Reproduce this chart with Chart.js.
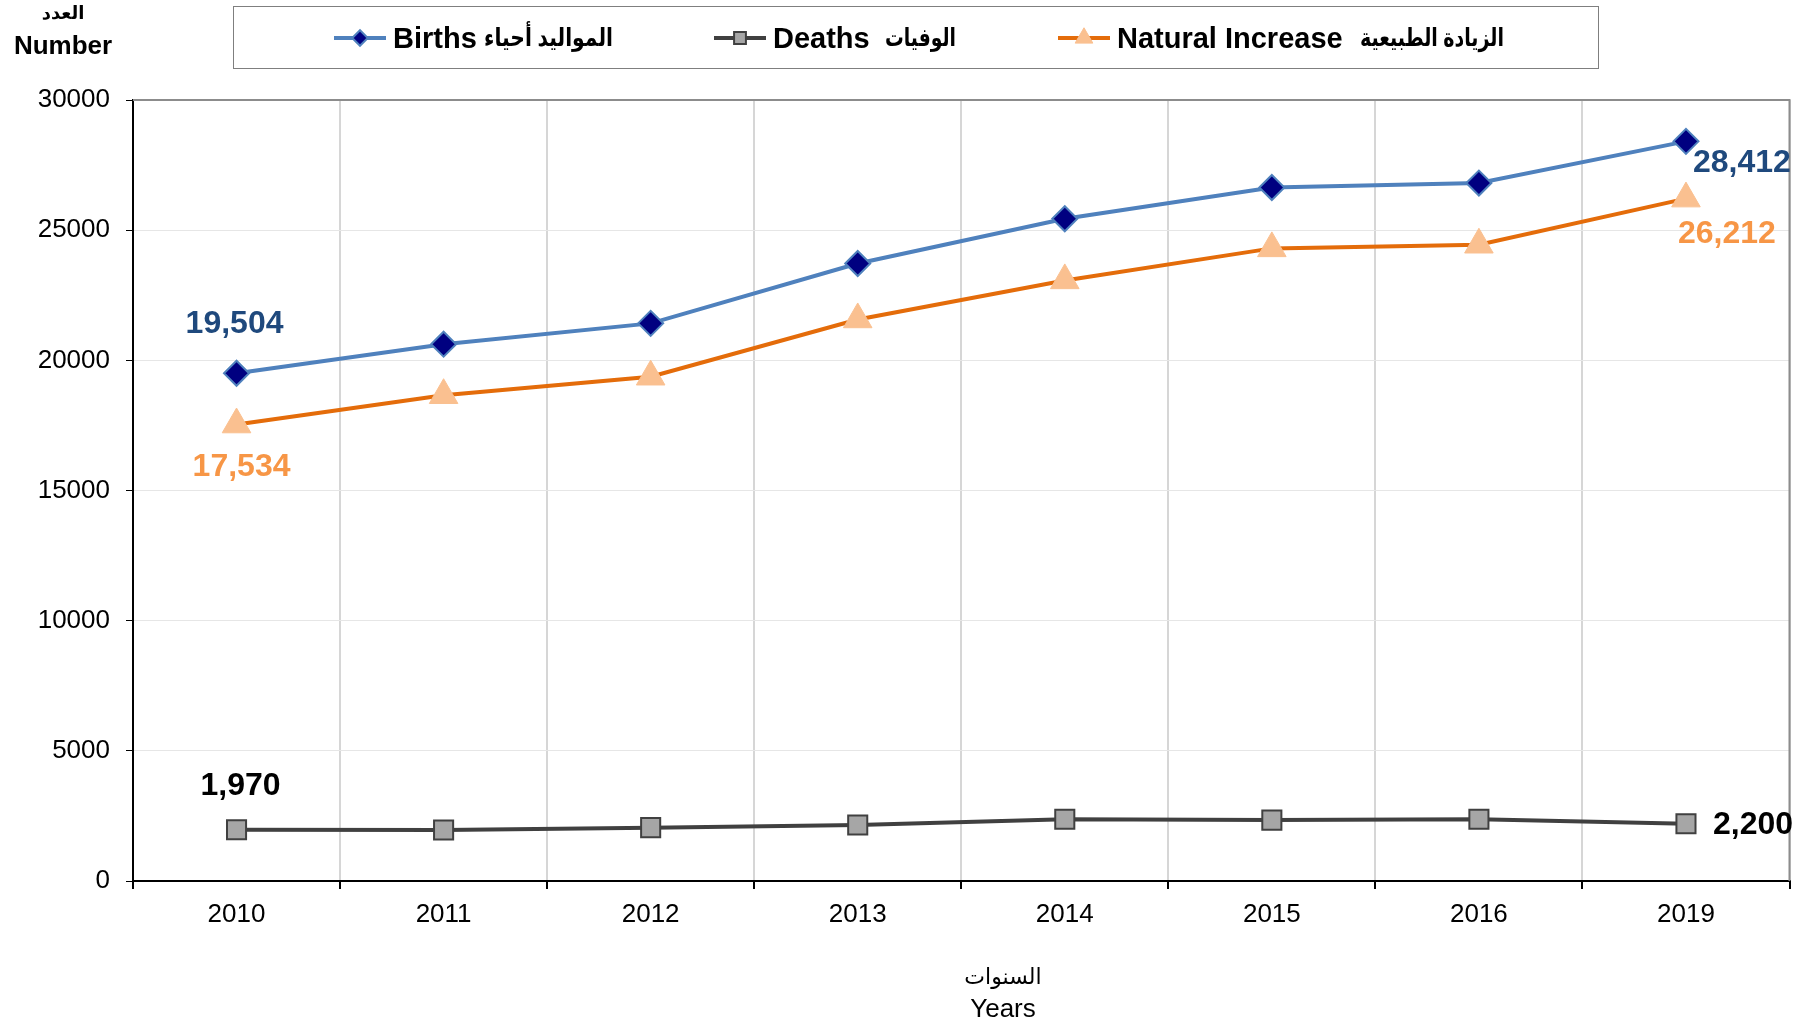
<!DOCTYPE html>
<html>
<head>
<meta charset="utf-8">
<script src="https://cdn.jsdelivr.net/npm/chart.js@4.4.0/dist/chart.umd.min.js"></script>
<style>
    html, body { margin: 0; padding: 0; background: #fff; }
    #wrap { width: 1807px; height: 1026px; }
</style>
</head>
<body>
<div id="wrap"><canvas id="popChart" width="1807" height="1026"></canvas></div>
<script>
    const years = ['2010', '2011', '2012', '2013', '2014', '2015', '2016', '2019'];
    const births = [19504, 20620, 21420, 23720, 25440, 26640, 26810, 28412];
    const deaths = [1970, 1960, 2050, 2150, 2370, 2340, 2370, 2200];
    const naturalIncrease = [17534, 18660, 19370, 21570, 23070, 24300, 24440, 26212];
    const yTicks = [0, 5000, 10000, 15000, 20000, 25000, 30000];

    const legendLatin = ['Births', 'Deaths', 'Natural Increase'];
    const legendArabic = ['المواليد أحياء', 'الوفيات', 'الزيادة الطبيعية'];
    const FONT = '"Liberation Sans", Arial, "DejaVu Sans", sans-serif';

    // 只给首尾两个点标数值
    const labelStyle = [
        { color: '#1F497D', first: { dx: -2, dy: -49, align: 'center' }, last: { dx: 7, dy: 22, align: 'left' } },
        { color: '#000000', first: { dx: 4, dy: -44, align: 'center' }, last: { dx: 27, dy: 1, align: 'left' } },
        { color: '#F79646', first: { dx: 5, dy: 43, align: 'center' }, last: { dx: -8, dy: 36, align: 'left' } }
    ];

    const endLabels = {
        id: 'endLabels',
        afterDatasetsDraw(chart) {
            const ctx = chart.ctx;
            ctx.save();
            ctx.font = 'bold 32px ' + FONT;
            ctx.textBaseline = 'middle';
            chart.data.datasets.forEach((ds, i) => {
                const meta = chart.getDatasetMeta(i);
                const st = labelStyle[i];
                [[0, st.first], [ds.data.length - 1, st.last]].forEach(([idx, pos]) => {
                    const pt = meta.data[idx];
                    ctx.fillStyle = st.color;
                    ctx.textAlign = pos.align;
                    ctx.fillText(ds.data[idx].toLocaleString('en-US'), pt.x + pos.dx, pt.y + pos.dy);
                });
            });
            ctx.restore();
        }
    };

    // 图例、坐标轴标题和上/右边框
    const decorations = {
        id: 'decorations',
        beforeDatasetsDraw(chart) {
            const { ctx, chartArea: a } = chart;
            ctx.save();
            ctx.strokeStyle = '#8c8c8c';
            ctx.lineWidth = 2;
            ctx.beginPath();
            ctx.moveTo(a.left, a.top);
            ctx.lineTo(a.right, a.top);
            ctx.lineTo(a.right, a.bottom);
            ctx.stroke();
            ctx.restore();
        },
        afterDraw(chart) {
            const ctx = chart.ctx;
            ctx.save();

            ctx.strokeStyle = '#7f7f7f';
            ctx.lineWidth = 1;
            ctx.strokeRect(233.5, 6.5, 1365, 62);

            const starts = [334, 714, 1058];
            const arabicRight = [613, 956, 1504];
            const arabicWidth = [129, 71, 144];
            chart.data.datasets.forEach((ds, i) => {
                const x0 = starts[i];
                const y = 38;
                ctx.strokeStyle = ds.borderColor;
                ctx.lineWidth = 4;
                ctx.beginPath();
                ctx.moveTo(x0, y);
                ctx.lineTo(x0 + 52, y);
                ctx.stroke();
                ctx.fillStyle = ds.pointBackgroundColor;
                ctx.strokeStyle = ds.pointBorderColor;
                ctx.lineWidth = ds.pointBorderWidth;
                Chart.helpers.drawPoint(ctx, {
                    pointStyle: ds.pointStyle,
                    radius: ds.pointRadius * 0.62,
                    borderWidth: ds.pointBorderWidth,
                    rotation: 0
                }, x0 + 26, y);
                ctx.fillStyle = '#000';
                ctx.font = 'bold 29px ' + FONT;
                ctx.textAlign = 'left';
                ctx.textBaseline = 'middle';
                ctx.fillText(legendLatin[i], x0 + 59, y + 2);
                ctx.font = 'bold 25px ' + FONT;
                ctx.textAlign = 'right';
                ctx.fillText(legendArabic[i], arabicRight[i], y + 1, arabicWidth[i]);
            });

            ctx.fillStyle = '#000';
            ctx.textAlign = 'center';
            ctx.textBaseline = 'middle';
            ctx.font = 'bold 18px ' + FONT;
            ctx.fillText('العدد', 63, 14);
            ctx.font = 'bold 26px ' + FONT;
            ctx.fillText('Number', 63, 47);

            ctx.font = '22px ' + FONT;
            ctx.fillText('السنوات', 1003, 978);
            ctx.font = '26px ' + FONT;
            ctx.fillText('Years', 1003, 1010);
            ctx.restore();
        }
    };

    const ctx = document.getElementById('popChart');
    new Chart(ctx, {
        type: 'line',
        data: {
            labels: years,
            datasets: [
                {
                    label: 'Births',
                    data: births,
                    borderColor: '#4F81BD',
                    borderWidth: 4,
                    pointStyle: 'rectRot',
                    pointRadius: 12.5,
                    pointBackgroundColor: '#000080',
                    pointBorderColor: '#4F81BD',
                    pointBorderWidth: 2,
                    tension: 0
                },
                {
                    label: 'Deaths',
                    data: deaths,
                    borderColor: '#404040',
                    borderWidth: 4,
                    pointStyle: 'rect',
                    pointRadius: 13.5,
                    pointBackgroundColor: '#A6A6A6',
                    pointBorderColor: '#404040',
                    pointBorderWidth: 2,
                    tension: 0
                },
                {
                    label: 'Natural Increase',
                    data: naturalIncrease,
                    borderColor: '#E46C0A',
                    borderWidth: 4,
                    pointStyle: 'triangle',
                    pointRadius: 16.5,
                    pointBackgroundColor: '#FAC090',
                    pointBorderColor: '#FAC090',
                    pointBorderWidth: 1,
                    tension: 0
                }
            ]
        },
        options: {
            responsive: false,
            animation: false,
            layout: { padding: { left: 0, right: 17, top: 100, bottom: 0 } },
            plugins: {
                legend: { display: false },
                tooltip: { enabled: false }
            },
            scales: {
                x: {
                    offset: true,
                    grid: {
                        offset: true,
                        color: '#d6d6d6',
                        lineWidth: 2,
                        tickColor: '#000',
                        tickLength: 8,
                        drawTicks: true
                    },
                    border: { color: '#000', width: 2 },
                    ticks: {
                        color: '#000',
                        font: { family: FONT, size: 26 },
                        padding: 10,
                        maxRotation: 0
                    },
                    afterFit(scale) { scale.height = 145; }
                },
                y: {
                    min: 0,
                    max: 30000,
                    afterBuildTicks(scale) { scale.ticks = yTicks.map(v => ({ value: v })); },
                    grid: {
                        color: '#e6e6e6',
                        lineWidth: 1,
                        tickColor: '#000',
                        tickLength: 7
                    },
                    border: { color: '#000', width: 2 },
                    ticks: {
                        color: '#000',
                        font: { family: FONT, size: 26 },
                        padding: 16,
                        callback: v => String(v)
                    },
                    afterFit(scale) { scale.width = 133; }
                }
            }
        },
        plugins: [decorations, endLabels]
    });
</script>
</body>
</html>
